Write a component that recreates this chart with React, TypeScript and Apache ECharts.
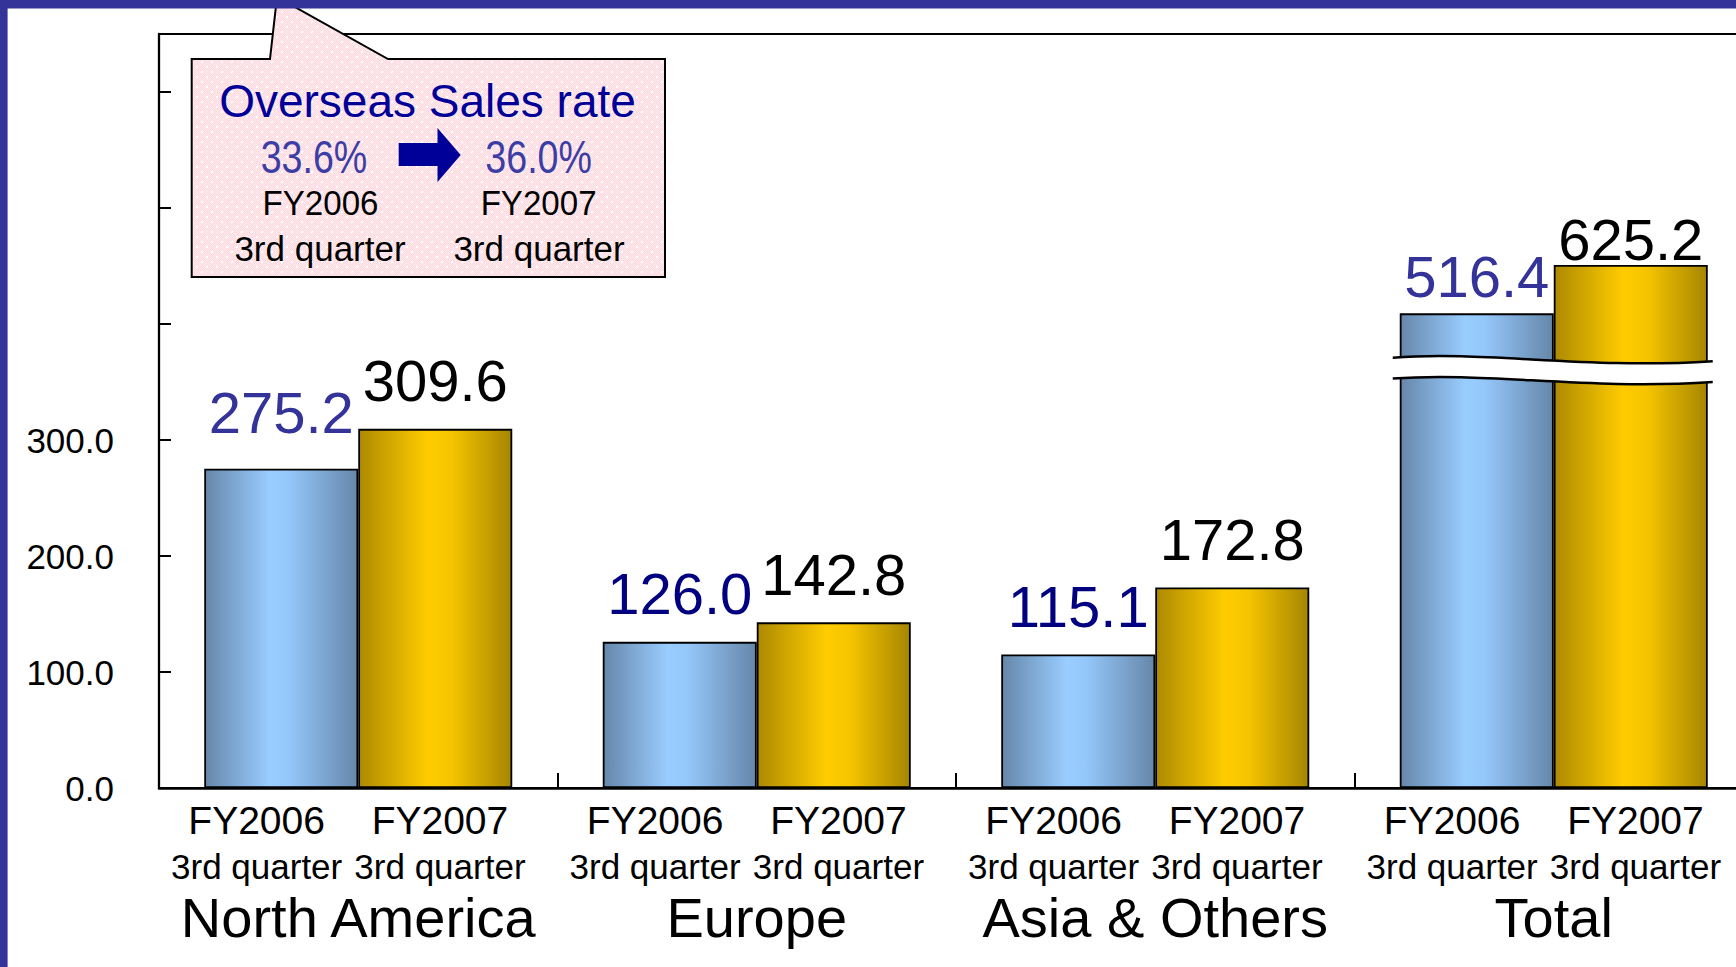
import React, { useEffect, useRef } from "react";
import * as echarts from "echarts";

// ---------- data ----------
const regions = ["North America", "Europe", "Asia & Others", "Total"];
const periods = ["FY2006", "FY2007"];
const periodSub = "3rd quarter";
const fy2006Sales = [275.2, 126.0, 115.1, 516.4];
const fy2007Sales = [309.6, 142.8, 172.8, 625.2];
const yTickLabels = ["0.0", "100.0", "200.0", "300.0"];
const overseasTitle = "Overseas Sales rate";
const overseasRates = ["33.6%", "36.0%"];

// ---------- broken value axis (values above the break drawn compressed) ----------
const BREAK_LOW = 353; // display value where the break starts
const BREAK_HIGH = 371; // display value where the break ends
const UPPER_BASE = 417; // real value shown at BREAK_HIGH
const UPPER_SCALE = 0.384; // compression above the break
const toDisplay = (v: number) =>
  v <= BREAK_LOW ? v : BREAK_HIGH + (v - UPPER_BASE) * UPPER_SCALE;

// ---------- styles ----------
const FONT = "'Liberation Sans', Arial, sans-serif";
const BLUE_DARK = "#000099";
const label2006Colors = ["#333399", "#000080", "#000080", "#333399"];
const label2006Dist = [27, 19, 19, 8];
const label2007Dist = [19, 19, 19, -4];
const PERIOD_LABEL_OFFSETS = [0.245, 0.705]; // where the period labels sit inside each region band

const grad2006 = new echarts.graphic.LinearGradient(0, 0, 1, 0, [
  { offset: 0, color: "#6687aa" },
  { offset: 0.42, color: "#99ccff" },
  { offset: 0.55, color: "#95c7fa" },
  { offset: 1, color: "#6687aa" },
]);
const grad2007 = new echarts.graphic.LinearGradient(0, 0, 1, 0, [
  { offset: 0, color: "#ad8a00" },
  { offset: 0.45, color: "#ffcc00" },
  { offset: 0.6, color: "#f7c500" },
  { offset: 1, color: "#a68600" },
]);

function makePattern(): string {
  const c = document.createElement("canvas");
  c.width = 10;
  c.height = 10;
  const ctx = c.getContext("2d");
  if (!ctx) return "";
  ctx.fillStyle = "#fcd9df";
  ctx.fillRect(0, 0, 10, 10);
  ctx.fillStyle = "#ffeaee";
  for (let y = 0; y < 10; y++)
    for (let x = 0; x < 10; x++) if ((x + y) % 2 === 0) ctx.fillRect(x, y, 1, 1);
  ctx.fillStyle = "#ffffff";
  ctx.fillRect(1, 1, 2, 2);
  ctx.fillRect(6, 6, 2, 2);
  return c.toDataURL();
}

export default function App() {
  const ref = useRef<HTMLDivElement>(null);

  useEffect(() => {
    if (!ref.current) return;
    const chart = echarts.init(ref.current, null, { renderer: "svg" });

    const periodPositions = regions.flatMap((_, c) => PERIOD_LABEL_OFFSETS.map((o) => c + o));

    const option: any = {
      animation: false,
      backgroundColor: "#ffffff",
      textStyle: { fontFamily: FONT },
      grid: {
        left: 159,
        right: -17,
        top: 34,
        bottom: 179,
        show: true,
        borderColor: "#000",
        borderWidth: 2,
        backgroundColor: "transparent",
        containLabel: false,
        outerBoundsMode: "none",
      },
      xAxis: [
        {
          type: "category",
          data: regions,
          position: "bottom",
          axisLine: { show: true, lineStyle: { color: "#000", width: 2.5 } },
          axisTick: { show: true, inside: true, length: 15, interval: 0, lineStyle: { color: "#000", width: 2 } },
          axisLabel: {
            interval: 0,
            margin: 106.5,
            fontSize: 56,
            lineHeight: 46,
            color: "#000",
            fontFamily: FONT,
          },
          splitLine: { show: false },
        },
        {
          type: "value",
          min: 0,
          max: regions.length,
          position: "bottom",
          axisLine: { show: false },
          axisTick: { show: false },
          splitLine: { show: false },
          axisLabel: {
            customValues: periodPositions,
            margin: 8,
            color: "#000",
            formatter: (v: number) => {
              const idx = v - Math.floor(v) < 0.5 ? 0 : 1;
              return `{a|${periods[idx]}}\n{b|${periodSub}}`;
            },
            rich: {
              a: { fontSize: 39, lineHeight: 48, color: "#000", fontFamily: FONT },
              b: { fontSize: 35, lineHeight: 44, color: "#000", fontFamily: FONT },
            },
          },
        },
      ],
      yAxis: {
        type: "value",
        min: 0,
        max: 650,
        interval: 100,
        axisLine: { show: true, lineStyle: { color: "#000", width: 2.3 } },
        axisTick: { show: true, inside: true, length: 12, lineStyle: { color: "#000", width: 2 } },
        axisLabel: {
          margin: 45,
          fontSize: 35,
          color: "#000",
          padding: [10, 0, 0, 0],
          showMaxLabel: false,
          formatter: (v: number) => yTickLabels[Math.round(v / 100)] ?? "",
        },
        splitLine: { show: false },
      },
      series: [
        {
          type: "bar",
          name: periods[0],
          xAxisIndex: 0,
          yAxisIndex: 0,
          barWidth: 154,
          barGap: "0%",
          itemStyle: { color: grad2006, borderColor: "#000", borderWidth: 1.8 },
          label: {
            show: true,
            position: "top",
            fontSize: 58,
            fontFamily: FONT,
            formatter: (p: any) => fy2006Sales[p.dataIndex].toFixed(1),
          },
          data: fy2006Sales.map((v, i) => ({
            value: toDisplay(v),
            label: { color: label2006Colors[i], distance: label2006Dist[i] },
          })),
        },
        {
          type: "bar",
          name: periods[1],
          xAxisIndex: 0,
          yAxisIndex: 0,
          barWidth: 154,
          barGap: "0%",
          itemStyle: { color: grad2007, borderColor: "#000", borderWidth: 1.8 },
          label: {
            show: true,
            position: "top",
            fontSize: 58,
            fontFamily: FONT,
            color: "#000",
            formatter: (p: any) => fy2007Sales[p.dataIndex].toFixed(1),
          },
          data: fy2007Sales.map((v, i) => ({
            value: toDisplay(v),
            label: { distance: label2007Dist[i] },
          })),
        },
      ],
    };

    chart.setOption(option);

    // break marks on the Total bars, positioned through the axes
    const cx = chart.convertToPixel({ xAxisIndex: 0 }, regions[3]) as number;
    const yUp = chart.convertToPixel({ yAxisIndex: 0 }, BREAK_HIGH) as number;
    const yDn = chart.convertToPixel({ yAxisIndex: 0 }, BREAK_LOW) as number;
    const xl = cx - 161;
    const xr = cx + 159;
    const w = xr - xl;
    const offs = [0, -7, 12, 3.5];
    const xs = [0, 0.3, 0.6, 1];
    const cub = (a: number[], t: number) =>
      (1 - t) ** 3 * a[0] + 3 * (1 - t) ** 2 * t * a[1] + 3 * (1 - t) * t * t * a[2] + t ** 3 * a[3];
    const upperPts: number[][] = [];
    const lowerPts: number[][] = [];
    for (let k = 0; k <= 40; k++) {
      const t = k / 40;
      upperPts.push([xl + w * cub(xs, t), yUp + cub(offs, t)]);
      lowerPts.push([xl + w * cub(xs, t), yDn + cub(offs, t)]);
    }
    const band = upperPts.concat(lowerPts.slice().reverse());
    const curve = (y: number) => ({
      x1: xl,
      y1: y + offs[0],
      cpx1: xl + w * xs[1],
      cpy1: y + offs[1],
      cpx2: xl + w * xs[2],
      cpy2: y + offs[2],
      x2: xr,
      y2: y + offs[3],
    });

    const pattern = makePattern();
    const boxFill: any = pattern ? { image: pattern, repeat: "repeat" } : "#fde1e5";

    const txt = (text: string, x: number, y: number, size: number, fill: string, scaleX = 1) => ({
      type: "text",
      x,
      y,
      scaleX,
      z: 102,
      style: {
        text,
        fontSize: size,
        fontFamily: FONT,
        fill,
        align: "center",
        verticalAlign: "middle",
      },
    });

    chart.setOption({
      graphic: [
        { type: "polygon", z: 50, shape: { points: band }, style: { fill: "#ffffff", stroke: "none" } },
        { type: "bezierCurve", z: 51, shape: curve(yUp), style: { stroke: "#000", lineWidth: 2.5, fill: "none" } },
        { type: "bezierCurve", z: 51, shape: curve(yDn), style: { stroke: "#000", lineWidth: 2.5, fill: "none" } },
        {
          type: "polygon",
          z: 100,
          shape: {
            points: [
              [191.7, 59],
              [270, 59],
              [277, -3],
              [388, 59],
              [665, 59],
              [665, 277],
              [191.7, 277],
            ],
          },
          style: { fill: boxFill, stroke: "#000", lineWidth: 2 },
        },
        txt(overseasTitle, 427.5, 100.5, 46, BLUE_DARK),
        txt(overseasRates[0], 314, 156.3, 47, "#3d3da6", 0.8),
        txt(overseasRates[1], 538.6, 156.3, 47, "#3d3da6", 0.8),
        {
          type: "polygon",
          z: 102,
          shape: {
            points: [
              [398.7, 143],
              [437.5, 143],
              [437.5, 128],
              [460.7, 155],
              [437.5, 182],
              [437.5, 166],
              [398.7, 166],
            ],
          },
          style: { fill: BLUE_DARK },
        },
        txt(periods[0], 320.5, 203, 36, "#000", 0.92),
        txt(periods[1], 538.6, 203, 36, "#000", 0.92),
        txt(periodSub, 320, 248.5, 35, "#000"),
        txt(periodSub, 539, 248.5, 35, "#000"),
        { type: "rect", z: 200, shape: { x: 0, y: 0, width: 1736, height: 8.5 }, style: { fill: "#333399" } },
        { type: "rect", z: 200, shape: { x: 0, y: 0, width: 7.6, height: 967 }, style: { fill: "#333399" } },
      ],
    });

    return () => chart.dispose();
  }, []);

  return (
    <div
      ref={ref}
      style={{ position: "fixed", left: 0, top: 0, width: 1736, height: 967, background: "#fff" }}
    />
  );
}
